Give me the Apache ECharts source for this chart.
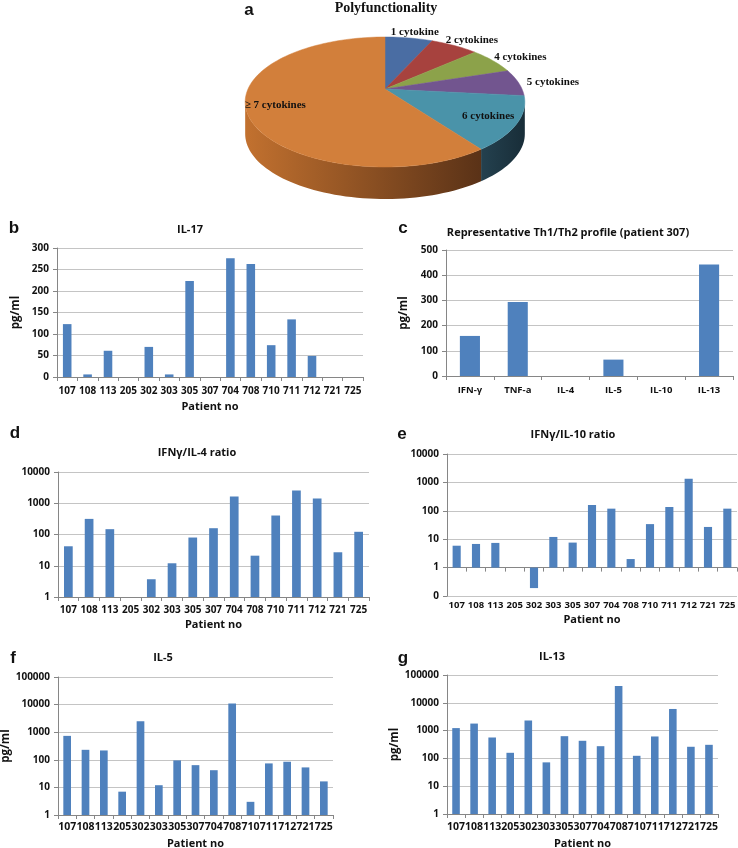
<!DOCTYPE html>
<html>
<head>
<meta charset="utf-8">
<script src="https://cdn.jsdelivr.net/npm/echarts@6/dist/echarts.min.js"></script>
<style>
html, body { margin: 0; padding: 0; background: #fff; }
#main { width: 738px; height: 848px; }
</style>
</head>
<body>
<div id="main"></div>
<script>
// ---- data ----
const pieNames = ['1 cytokine', '2 cytokines', '4 cytokines', '5 cytokines', '6 cytokines', '≥ 7 cytokines'];
const pieValues = [1, 1, 1, 1, 2, 9];

const patients = ['107', '108', '113', '205', '302', '303', '305', '307', '704', '708', '710', '711', '712', '721', '725'];
const il17 = [123, 6, 61, 0, 70, 6, 223, 0, 276, 263, 74, 134, 49, 0, 0];
const profileLabels = ['IFN-γ', 'TNF-a', 'IL-4', 'IL-5', 'IL-10', 'IL-13'];
const profile307 = [159, 294, 0, 65, 0, 442];
const ifnIl4 = [42, 316, 148, null, 3.7, 12, 80, 159, 1630, 21, 405, 2540, 1410, 27, 122];
const ifnIl10 = [5.9, 6.8, 7.4, null, 0.19, 12, 7.6, 160, 119, 2.0, 34, 136, 1350, 27, 119];
const il5 = [736, 230, 218, 7, 2500, 12, 95, 64, 42, 10900, 3.0, 74, 85, 53, 16.5];
const il13 = [1230, 1790, 565, 159, 2300, 72, 630, 430, 275, 40000, 124, 615, 6000, 262, 308];

// ---- pie (perspective) ----
const pieColors = ['#4A6DA3', '#A7423E', '#8CA24A', '#72558F', '#4A93A9', '#D27F3B'];
const pieSide = [
  ['#2E4566', '#22344D'], ['#6E2A28', '#5A2020'], ['#5C6B30', '#4A5626'],
  ['#4A3760', '#3A2B4C'], ['#24414F', '#182D38'], ['#C2712F', '#5A3217']
];
const P = { cx: 385, cy: 89, a: 137, b: 62.4, k: 0.2, depth: 32 };
const FRONT = [101.5, 258.5];
const pieTotal = pieValues.reduce((s, v) => s + v, 0);
const pieStart = [];
let acc = 0;
pieValues.forEach(v => { pieStart.push(acc / pieTotal * 360); acc += v; });

function proj(deg, r) {
  const t = deg * Math.PI / 180;
  const u = r * Math.sin(t), v = -r * Math.cos(t);
  const w = 1 - P.k * v;
  return [P.cx + P.a * u / w, P.cy + P.b * v / w];
}
function arc(s, e) {
  const pts = [];
  const n = Math.max(2, Math.ceil((e - s) / 2));
  for (let j = 0; j <= n; j++) pts.push(proj(s + (e - s) * j / n, 1));
  return pts;
}
function renderPie(params, api) {
  const i = params.dataIndex;
  const s = pieStart[i];
  const e = s + api.value(0) / pieTotal * 360;
  const children = [];
  const a0 = Math.max(s, FRONT[0]), a1 = Math.min(e, FRONT[1]);
  if (a1 > a0) {
    const top = arc(a0, a1);
    const bottom = top.map(p => [p[0], p[1] + P.depth]).reverse();
    children.push({
      type: 'polygon',
      shape: { points: top.concat(bottom) },
      style: {
        fill: new echarts.graphic.LinearGradient(0, 0, 1, 0, [
          { offset: 0, color: pieSide[i][0] },
          { offset: 1, color: pieSide[i][1] }
        ])
      }
    });
  }
  children.push({
    type: 'polygon',
    shape: { points: [proj(0, 0)].concat(arc(s, e)) },
    style: { fill: pieColors[i], stroke: pieColors[i], lineWidth: 0.5 }
  });
  const mid = (s + e) / 2;
  const inside = api.value(0) / pieTotal > 0.1;
  const lp = inside ? proj(mid, 0.8) : proj(mid, 1.15);
  if (!inside) lp[0] += 15 * Math.sin(mid * Math.PI / 180);
  children.push({
    type: 'text',
    x: lp[0], y: lp[1],
    style: {
      text: pieNames[i], fill: '#111',
      font: 'bold 11px "Liberation Serif"',
      align: 'center', verticalAlign: 'middle',
      textAlign: 'center', textVerticalAlign: 'middle'
    }
  });
  return { type: 'group', children: children };
}

// ---- bar panels ----
const font = 'Open Sans';
const gridBox = [
  { left: 57, top: 248, width: 306, height: 129 },  // b
  { left: 446, top: 250, width: 287, height: 126 }, // c
  { left: 58, top: 472, width: 311, height: 125 },  // d
  { left: 447, top: 454, width: 290, height: 142 }, // e
  { left: 58, top: 677, width: 275, height: 138 },  // f
  { left: 447, top: 675, width: 271, height: 139 }  // g
];

function xCat(gi, cats, size, margin, name, nameGap) {
  return {
    type: 'category', gridIndex: gi, data: cats, position: 'bottom',
    axisLine: { show: true, onZero: false, lineStyle: { color: '#868686', width: 1 } },
    axisTick: { show: true, length: 4, lineStyle: { color: '#868686' } },
    axisLabel: { interval: 0, margin: margin, color: '#111', fontFamily: font, fontWeight: 'bold', fontSize: size },
    splitLine: { show: false },
    name: name || '', nameLocation: 'middle', nameGap: nameGap || 0,
    nameTextStyle: { color: '#111', fontFamily: font, fontWeight: 'bold', fontSize: 11 }
  };
}
function yVal(gi, opts, name, nameGap) {
  return Object.assign({
    gridIndex: gi,
    axisLine: { show: true, lineStyle: { color: '#868686', width: 1 } },
    axisTick: { show: true, length: 4, lineStyle: { color: '#868686' } },
    axisLabel: { margin: 8, color: '#111', fontFamily: font, fontWeight: 'bold', fontSize: 10 },
    splitLine: { show: true, lineStyle: { color: '#C4C4C4', width: 1 } },
    name: name || '', nameLocation: 'middle', nameRotate: 90, nameGap: nameGap || 0,
    nameTextStyle: { color: '#111', fontFamily: font, fontWeight: 'bold', fontSize: 11.5 }
  }, opts);
}
const logFmt = v => (v < 1 ? '0' : String(Math.round(v)));
function logAxis(gi, min, max, name, nameGap) {
  const ax = yVal(gi, { type: 'log', logBase: 10, min: min, max: max,
    splitNumber: Math.round(Math.log10(max / min)) }, name, nameGap);
  ax.axisLabel.formatter = logFmt;
  return ax;
}
function bars(gi, data) {
  return {
    type: 'bar', xAxisIndex: gi, yAxisIndex: gi, data: data,
    barWidth: '42%', itemStyle: { color: '#4F81BD' }, silent: true
  };
}

const xEline = xCat(3, patients, 9.5, 4);
const xEone = xCat(3, patients, 9.5, 4);
xEline.offset = -28.4;
xEline.axisLabel.show = false;
xEone.axisLine.show = false;
xEone.axisTick.show = false;
xEone.name = 'Patient no';
xEone.nameGap = 18;

function txt(text, x, y, fontSpec) {
  return {
    type: 'text', x: x, y: y, silent: true,
    style: {
      text: text, fill: '#111', font: fontSpec,
      align: 'center', verticalAlign: 'middle',
      textAlign: 'center', textVerticalAlign: 'middle'
    }
  };
}
const letterFont = 'bold 17px "Liberation Sans"';
const titleFont = 'bold 11px "Open Sans"';

const chart = echarts.init(document.getElementById('main'), null, { renderer: 'canvas' });
chart.setOption({
  backgroundColor: '#fff',
  animation: false,
  grid: gridBox.map(g => Object.assign({ outerBoundsMode: 'none', containLabel: false }, g)),
  xAxis: [
    xCat(0, patients, 10, 9, 'Patient no', 24),
    xCat(1, profileLabels, 9.5, 9),
    xCat(2, patients, 10, 8, 'Patient no', 22),
    xEone,
    xCat(4, patients, 10.5, 7, 'Patient no', 23),
    xCat(5, patients, 10.5, 8, 'Patient no', 24),
    xEline
  ],
  yAxis: [
    yVal(0, { type: 'value', min: 0, max: 300, interval: 50 }, 'pg/ml', 35),
    yVal(1, { type: 'value', min: 0, max: 500, interval: 100 }, 'pg/ml', 36),
    logAxis(2, 1, 10000),
    logAxis(3, 0.1, 10000),
    logAxis(4, 1, 100000, 'pg/ml', 43),
    logAxis(5, 1, 100000, 'pg/ml', 45)
  ],
  series: [
    {
      type: 'custom', coordinateSystem: 'none', silent: true,
      renderItem: renderPie, data: pieValues
    },
    bars(0, il17),
    bars(1, profile307),
    bars(2, ifnIl4),
    bars(3, ifnIl10),
    bars(4, il5),
    bars(5, il13)
  ],
  graphic: [
    txt('a', 249, 10, letterFont),
    txt('Polyfunctionality', 386, 8, 'bold 14px "Liberation Serif"'),
    txt('b', 14, 228, letterFont),
    txt('IL-17', 190, 230, titleFont),
    txt('c', 403, 228, letterFont),
    txt('Representative Th1/Th2 profile (patient 307)', 568, 233, titleFont),
    txt('d', 15, 433, letterFont),
    txt('IFNγ/IL-4 ratio', 197, 453, titleFont),
    txt('e', 402, 434, letterFont),
    txt('IFNγ/IL-10 ratio', 573, 435, titleFont),
    txt('f', 13, 658, letterFont),
    txt('IL-5', 163, 658, titleFont),
    txt('g', 403, 658, letterFont),
    txt('IL-13', 552, 657, titleFont)
  ]
});
</script>
</body>
</html>
